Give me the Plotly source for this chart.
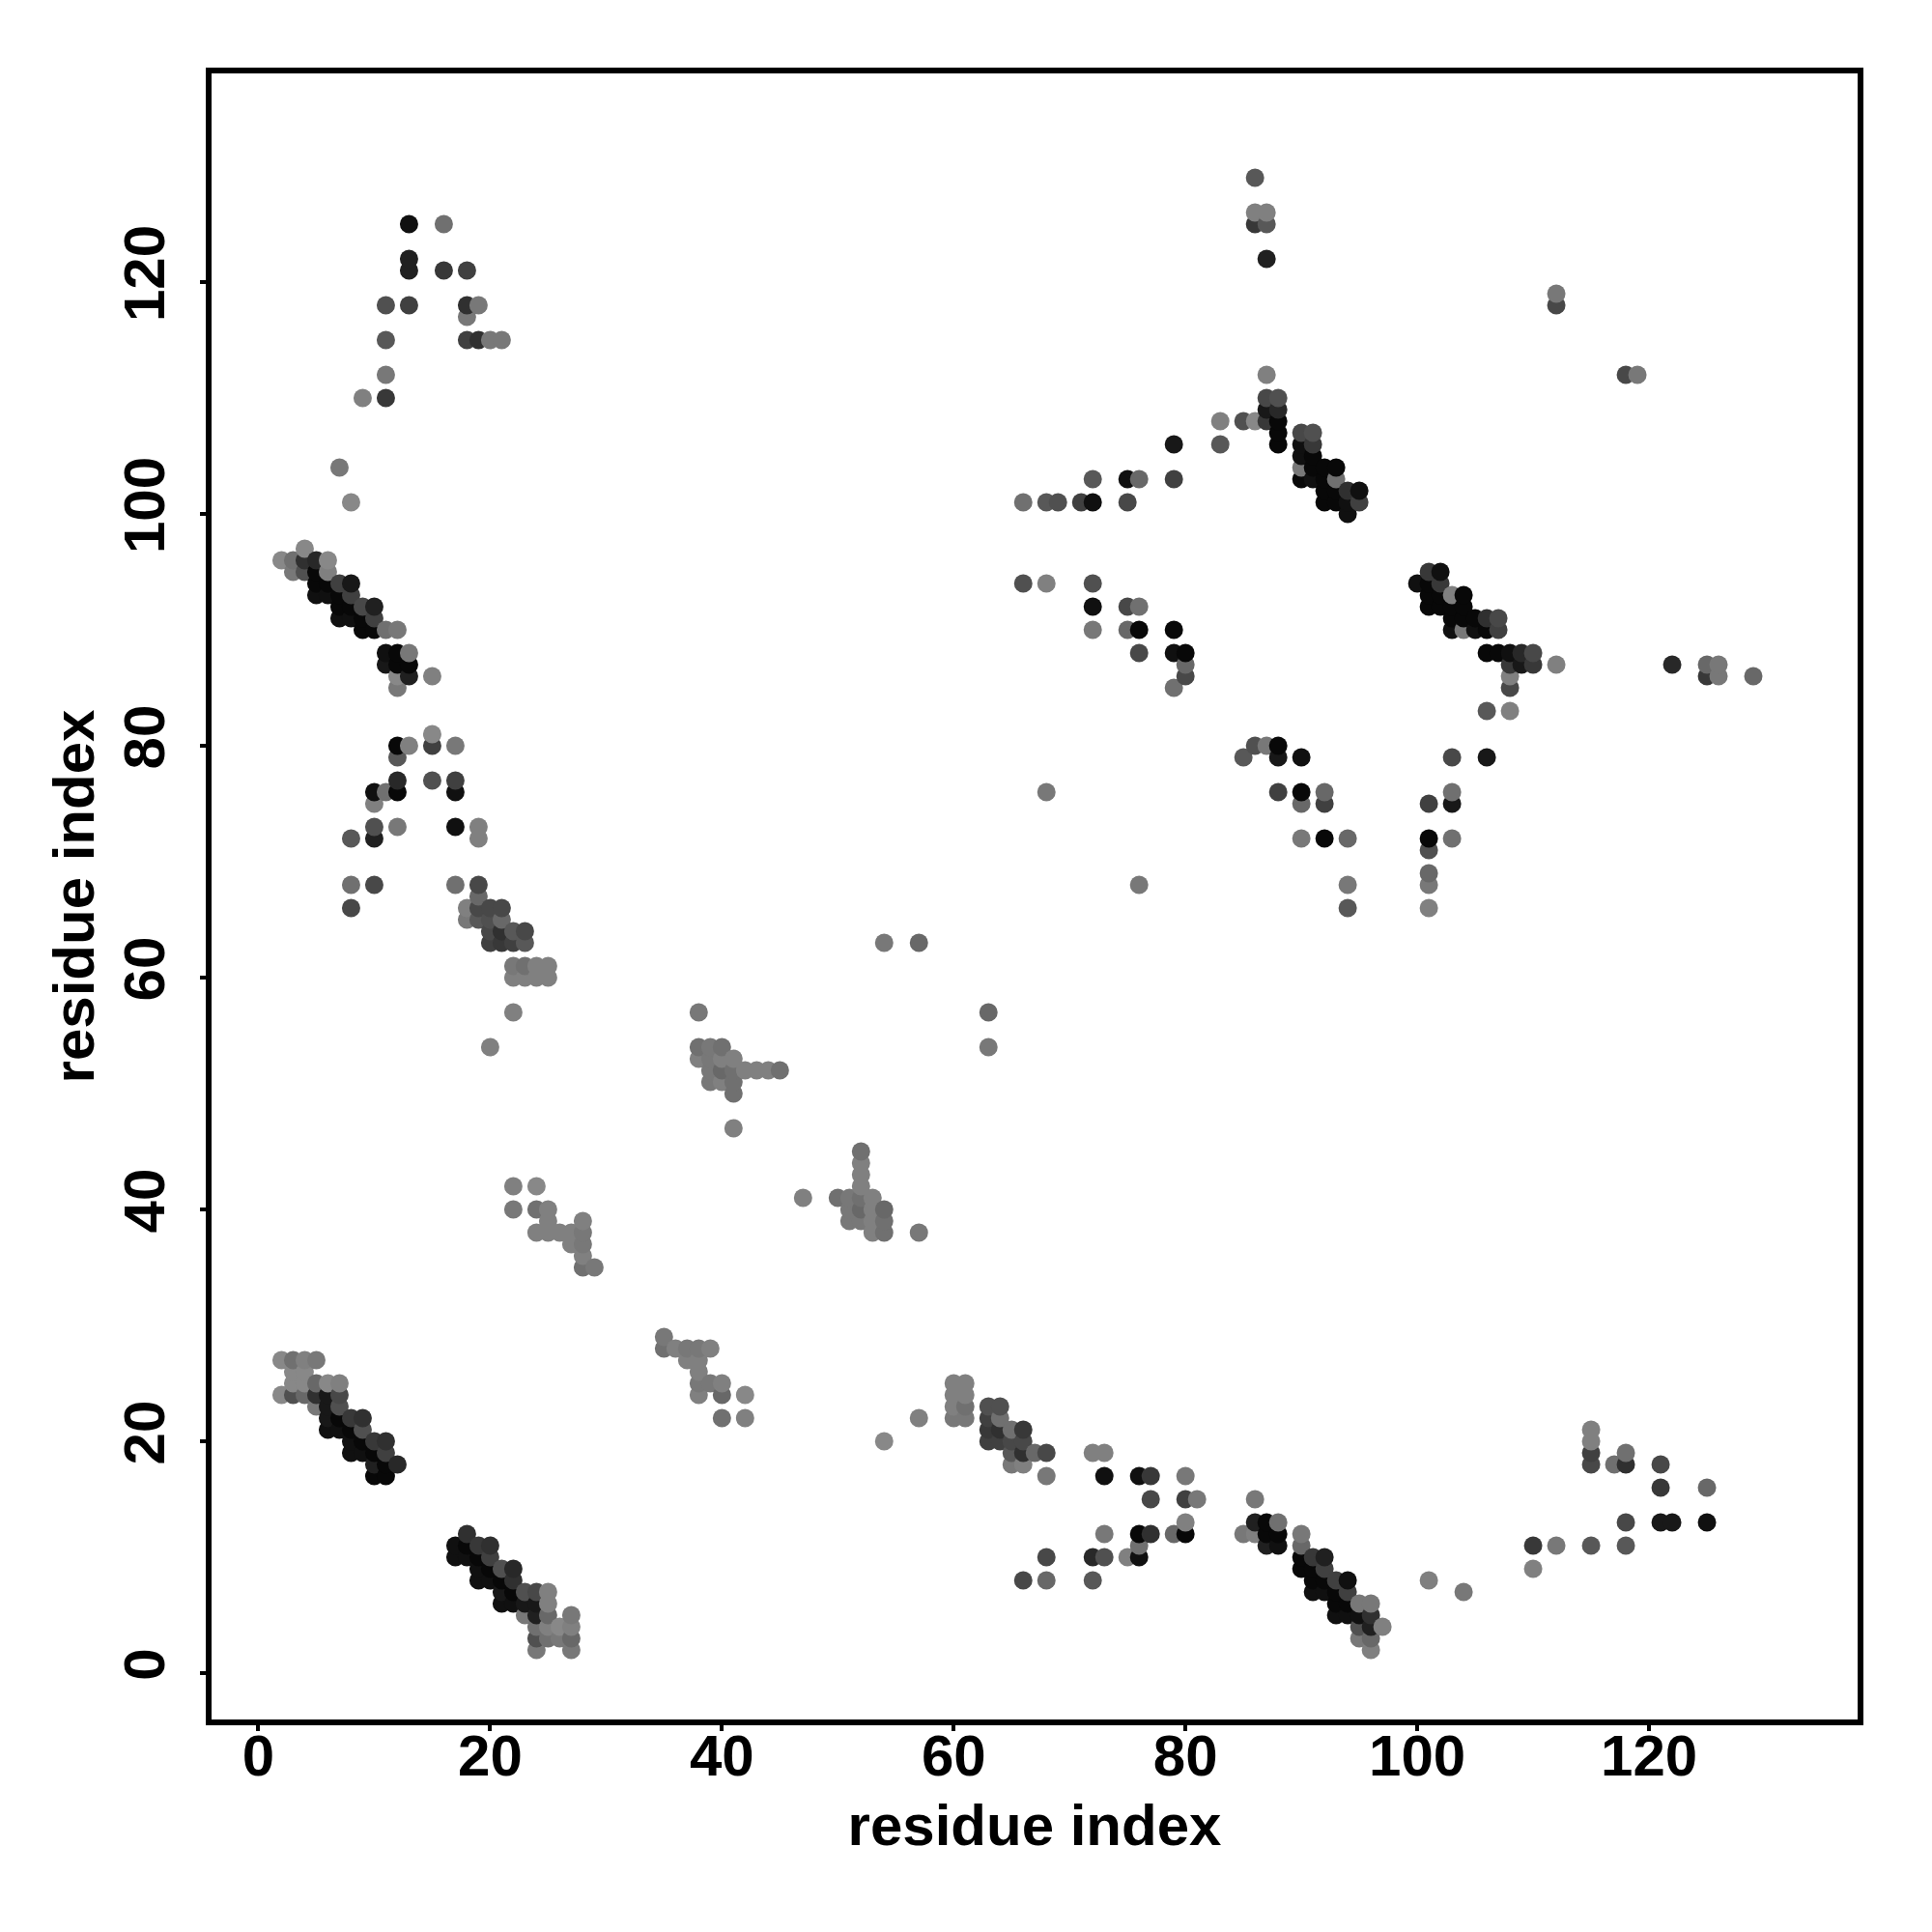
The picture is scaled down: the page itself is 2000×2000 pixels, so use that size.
import plotly.graph_objects as go

tick_values = [0, 20, 40, 60, 80, 100, 120]
axis_title = "residue index"

# lower-left strand pair
a_x = [2,3,4,5, 3,4, 3,4,5,6,7, 2,3,4,5,6,7, 5,6,7, 6,7,8,9, 6,7,8,9, 8,9,10,11, 8,9,10,11, 10,11,12, 10,11]
a_y = [27,27,27,27, 26,26, 25,25,25,25,25, 24,24,24,24,24,24, 23,23,23, 22,22,22,22, 21,21,21,21, 20,20,20,20, 19,19,19,19, 18,18,18, 17,17]
a_g = [0x80,0x68,0x78,0x70, 0x80,0x80, 0x80,0x80,0x60,0x80,0x78, 0x80,0x50,0x60,0x30,0x18,0x48, 0x70,0x18,0x50,
       0x18,0x08,0x38,0x30, 0x10,0x10,0x08,0x50, 0x10,0x08,0x38,0x30, 0x10,0x10,0x08,0x40, 0x20,0x08,0x28, 0x08,0x08]

b_x = [18, 17,18,19,20, 17,18,19,20, 19,20,21,22, 19,20,21,22, 21,22,23,24,25, 21,22,23,24,25, 23,24,25,27, 24,25,26,27, 24,25,26,27, 24,27]
b_y = [12, 11,11,11,11, 10,10,10,10, 9,9,9,9, 8,8,8,8, 7,7,7,7,7, 6,6,6,6,6, 5,5,5,5, 4,4,4,4, 3,3,3,3, 2,2]
b_g = [0x30, 0x10,0x08,0x38,0x30, 0x10,0x10,0x08,0x40, 0x10,0x08,0x50,0x28, 0x10,0x10,0x08,0x30,
       0x18,0x08,0x50,0x48,0x78, 0x10,0x10,0x18,0x18,0x78, 0x70,0x20,0x60,0x70, 0x68,0x78,0x80,0x78, 0x50,0x68,0x70,0x60, 0x70,0x70]

c_x = [7, 8, 4, 2,3,4,5,6, 3,4,5,6, 5,6,7,8, 5,6,7,8, 7,8,9,10, 7,8,9,10, 9,10,11,12, 11,12,13, 11,12,13, 12,13,15, 12]
c_y = [104, 101, 97, 96,96,96,96,96, 95,95,95,95, 94,94,94,94, 93,93,93,93, 92,92,92,92, 91,91,91,91, 90,90,90,90, 88,88,88, 87,87,87, 86,86,86, 85]
c_g = [0x70, 0x80, 0x80, 0x80,0x68,0x30,0x28,0x80, 0x70,0x50,0x08,0x78, 0x08,0x08,0x40,0x18, 0x10,0x10,0x08,0x40,
       0x08,0x08,0x48,0x20, 0x10,0x10,0x08,0x40, 0x08,0x08,0x68,0x70, 0x10,0x08,0x70, 0x18,0x08,0x08, 0x80,0x20,0x78, 0x70]

d_x = [15, 12,13,15,17, 12, 12,15,17, 10,11,12,17, 10, 10,12,17,19, 8,10,19, 8,10,17,19, 19, 8,18,19,20,21, 18,19,20,21, 20,21,22,23, 20,21,22,23, 22,23,24,25, 22,23,24,25, 22, 20]
d_y = [81, 80,80,80,80, 79, 77,77,77, 76,76,76,76, 75, 73,73,73,73, 72,72,72, 68,68,68,68, 67, 66,66,66,66,66, 65,65,65,65, 64,64,64,64, 63,63,63,63, 61,61,61,61, 60,60,60,60, 57, 54]
d_g = [0x80, 0x08,0x78,0x40,0x70, 0x58, 0x28,0x50,0x40, 0x10,0x68,0x08,0x10, 0x78, 0x50,0x70,0x10,0x78, 0x58,0x20,0x78,
       0x68,0x48,0x68,0x48, 0x60, 0x48,0x78,0x48,0x48,0x48, 0x70,0x58,0x50,0x60, 0x48,0x30,0x58,0x48, 0x40,0x38,0x40,0x58,
       0x70,0x68,0x78,0x78, 0x78,0x78,0x78,0x78, 0x78, 0x78]

e_x = [13,16, 13, 13,16,18, 11,13,18,19, 18, 11,18,19,20,21, 11, 9,11]
e_y = [125,125, 122, 121,121,121, 118,118,118,118, 117, 115,115,115,115,115, 112, 110,110]
e_g = [0x10,0x68, 0x20, 0x20,0x38,0x40, 0x50,0x40,0x30,0x70, 0x70, 0x58,0x40,0x30,0x70,0x70, 0x70, 0x78,0x38]

f_x = [86, 86,87, 86,87, 87, 112,112, 118,119]
f_y = [129, 126,126, 125,125, 122, 119,118, 112,112]
f_g = [0x58, 0x78,0x78, 0x38,0x58, 0x20, 0x70,0x48, 0x48,0x70]

g_x = [87, 87,88, 87,88, 83,85,86,87,88, 79,83,88,90,91, 90,91, 90,91, 90,91,92,93, 72,75,76,79,90,91,92,93, 92,93,94,95, 66,68,69,71,72,75,92,93,94,95, 94]
g_y = [112, 110,110, 109,109, 108,108,108,108,108, 106,106,107,107,107, 106,106, 105,105, 104,104,104,104, 103,103,103,103,103,103,103,103, 102,102,102,102, 101,101,101,101,101,101,101,101,101,101, 100]
g_g = [0x78, 0x48,0x50, 0x18,0x28, 0x78,0x50,0x80,0x38,0x08, 0x18,0x58,0x08,0x48,0x50, 0x10,0x38, 0x10,0x08, 0x70,0x08,0x08,0x08,
       0x58,0x10,0x60,0x40,0x08,0x10,0x08,0x68, 0x08,0x08,0x30,0x10, 0x68,0x58,0x50,0x40,0x10,0x48,0x08,0x08,0x10,0x40, 0x10]

h_x = [88, 66,68,72, 72,75,76, 72,75,76,79, 76,79,80, 80, 79,80]
h_y = [106, 94,94,94, 92,92,92, 90,90,90,90, 88,88,88, 87, 85,86]
h_g = [0x08, 0x50,0x78,0x50, 0x10,0x48,0x68, 0x70,0x60,0x08,0x08, 0x48,0x10,0x08, 0x60, 0x68,0x48]

i_x = [101,102, 100,101,102, 101,102,103,104, 101,102,103,104, 103,104,105,106,107, 103,104,105,106,107, 106,107,108,109,110, 108,109,110,112, 108, 108, 106,108, 122,125,126, 125,126,129]
i_y = [95,95, 94,94,94, 93,93,93,93, 92,92,92,92, 91,91,91,91,91, 90,90,90,90,90, 88,88,88,88,88, 87,87,87,87, 86, 85, 83,83, 87,87,87, 86,86,86]
i_g = [0x38,0x10, 0x10,0x08,0x38, 0x08,0x08,0x78,0x08, 0x08,0x08,0x08,0x08, 0x08,0x08,0x08,0x30,0x48, 0x10,0x70,0x10,0x08,0x40,
       0x08,0x08,0x10,0x28,0x48, 0x38,0x18,0x38,0x78, 0x78, 0x48, 0x58,0x78, 0x28,0x60,0x70, 0x38,0x70,0x60]

j_x = [103,106, 103, 101,103, 101,103, 101, 101, 101, 101]
j_y = [79,79, 76, 75,75, 72,72, 71, 69, 68, 66]
j_g = [0x48,0x18, 0x68, 0x40,0x18, 0x08,0x68, 0x50, 0x60, 0x70, 0x78]

k_x = [85, 86,87,88, 88,90, 88,90,92, 90,92, 90,92,94, 94, 94, 68, 76, 54,57, 63,63]
k_y = [79, 80,80,80, 79,79, 76,76,76, 75,75, 72,72,72, 68, 66, 76, 68, 63,63, 57,54]
k_g = [0x58, 0x50,0x70,0x08, 0x18,0x10, 0x40,0x08,0x60, 0x60,0x40, 0x70,0x08,0x60, 0x70, 0x58, 0x70, 0x70, 0x70,0x60, 0x60,0x70]

m_x = [38, 38,39,40, 38,39,40,41, 39,40,41,42,43,44,45, 39,40,41, 41, 41]
m_y = [57, 54,54,54, 53,53,53,53, 52,52,52,52,52,52,52, 51,51,51, 50, 47]
m_g = [0x70, 0x68,0x70,0x68, 0x78,0x70,0x78,0x78, 0x70,0x60,0x68,0x78,0x78,0x78,0x68, 0x70,0x78,0x68, 0x68, 0x78]

n_x = [52, 52, 52, 52, 47,50,51,52,53, 51,52,53,54, 51,52,53,54, 53,54,57]
n_y = [45, 44, 43, 42, 41,41,41,41,41, 40,40,40,40, 39,39,39,39, 38,38,38]
n_g = [0x68, 0x78, 0x78, 0x78, 0x78,0x68,0x70,0x68,0x78, 0x70,0x60,0x78,0x60, 0x70,0x70,0x78,0x68, 0x78,0x68,0x70]

p_x = [22,24, 22,24,25, 25,28, 24,25,26,27,28, 27,28, 28, 28,29]
p_y = [42,42, 40,40,40, 39,39, 38,38,38,38,38, 37,37, 36, 35,35]
p_g = [0x78,0x80, 0x70,0x68,0x78, 0x78,0x78, 0x78,0x78,0x78,0x78,0x70, 0x78,0x70, 0x78, 0x68,0x70]

q_x = [35, 35,36,37,38,39, 37,38, 38, 38,39,40, 38,40,42, 40,42]
q_y = [29, 28,28,28,28,28, 27,27, 26, 25,25,25, 24,24,24, 22,22]
q_g = [0x70, 0x68,0x78,0x70,0x70,0x78, 0x78,0x78, 0x78, 0x70,0x70,0x78, 0x78,0x60,0x80, 0x68,0x78]

r_x = [60,61, 60,61, 60,61,63,64, 57,60,61,63,64, 63,64,65,66, 54,63,64,65,66, 65,66,67,68, 65,66, 68]
r_y = [25,25, 24,24, 23,23,23,23, 22,22,22,22,22, 21,21,21,21, 20,20,20,20,20, 19,19,19,19, 18,18, 17]
r_g = [0x78,0x78, 0x78,0x78, 0x78,0x68,0x50,0x50, 0x78,0x70,0x70,0x40,0x68, 0x38,0x30,0x68,0x38, 0x80,0x40,0x40,0x48,0x48,
       0x58,0x30,0x60,0x48, 0x70,0x78, 0x70]

s_x = [72,73, 73,76,77,80, 77,80,81, 80, 73,76,77,79,80, 76, 68,72,73,75,76, 66,68,72]
s_y = [19,19, 17,17,17,17, 15,15,15, 13, 12,12,12,12,12, 11, 10,10,10,10,10, 8,8,8]
s_g = [0x78,0x78, 0x10,0x10,0x38,0x70, 0x48,0x40,0x70, 0x78, 0x70,0x08,0x30,0x60,0x08, 0x68, 0x48,0x28,0x50,0x78,0x10, 0x48,0x60,0x58]

t_x = [86, 86,87,88, 85,86,87,88,90, 87,88,90, 90,91,92, 90,91,92, 91,92,93,94, 91,92,93,94, 93,94,95,96, 93,94,95,96, 95,96,97, 95,96, 96]
t_y = [15, 13,13,13, 12,12,12,12,12, 11,11,11, 10,10,10, 9,9,9, 8,8,8,8, 7,7,7,7, 6,6,6,6, 5,5,5,5, 4,4,4, 3,3, 2]
t_g = [0x70, 0x20,0x08,0x68, 0x70,0x78,0x08,0x08,0x70, 0x20,0x10,0x60, 0x08,0x38,0x20, 0x08,0x08,0x40, 0x08,0x08,0x40,0x10,
       0x10,0x10,0x08,0x40, 0x08,0x08,0x70,0x70, 0x10,0x10,0x10,0x30, 0x50,0x20,0x78, 0x70,0x60, 0x78]

u_x = [115, 115, 115,118, 115,117,118,121, 121,125, 118,121,122,125, 110,112,115,118, 110, 101, 104]
u_y = [21, 20, 19,19, 18,18,18,18, 16,16, 13,13,13,13, 11,11,11,11, 9, 8, 7]
u_g = [0x78, 0x78, 0x40,0x68, 0x48,0x68,0x30,0x48, 0x38,0x60, 0x48,0x18,0x18,0x10, 0x38,0x70,0x58,0x58, 0x78, 0x78, 0x70]

clusters = [(a_x, a_y, a_g), (b_x, b_y, b_g), (c_x, c_y, c_g), (d_x, d_y, d_g), (e_x, e_y, e_g),
            (f_x, f_y, f_g), (g_x, g_y, g_g), (h_x, h_y, h_g), (i_x, i_y, i_g), (j_x, j_y, j_g),
            (k_x, k_y, k_g), (m_x, m_y, m_g), (n_x, n_y, n_g), (p_x, p_y, p_g), (q_x, q_y, q_g),
            (r_x, r_y, r_g), (s_x, s_y, s_g), (t_x, t_y, t_g), (u_x, u_y, u_g)]

points = []
for xs, ys, gs in clusters:
    assert len(xs) == len(ys) == len(gs), (xs[:3], len(xs), len(ys), len(gs))
    points.extend(zip(xs, ys, gs))
points.sort(key=lambda p: (p[0], p[1]))


def shade(g):
    level = g + 8 if g >= 0x60 else g
    return f"rgb({level},{level},{level})"


fig = go.Figure(go.Scatter(
    x=[p[0] for p in points],
    y=[p[1] for p in points],
    mode="markers",
    marker=dict(size=19, color=[shade(p[2]) for p in points], line=dict(width=0)),
    hoverinfo="x+y",
    showlegend=False,
))

font = dict(family="Liberation Sans", size=60, color="black", weight="bold")
axis = dict(
    tickvals=tick_values, ticktext=[str(v) for v in tick_values], tickfont=font,
    ticks="outside", ticklen=6, tickwidth=4, tickcolor="black",
    showline=True, linecolor="black", linewidth=6, mirror=True,
    showgrid=False, zeroline=False, automargin=False,
)
fig.update_xaxes(range=[-4.04, 138.0], ticklabelstandoff=-26,
                 title=dict(text=axis_title, font=font, standoff=20), **axis)
fig.update_yaxes(range=[-4.0, 138.0], tickangle=-90, ticklabelstandoff=13,
                 title=dict(text=axis_title, font=font, standoff=1), **axis)
fig.update_layout(
    width=2000, height=2000, autosize=False,
    margin=dict(l=211, r=84.5, t=68, b=228, pad=0),
    paper_bgcolor="white", plot_bgcolor="white",
)
fig.write_html("out.html")
